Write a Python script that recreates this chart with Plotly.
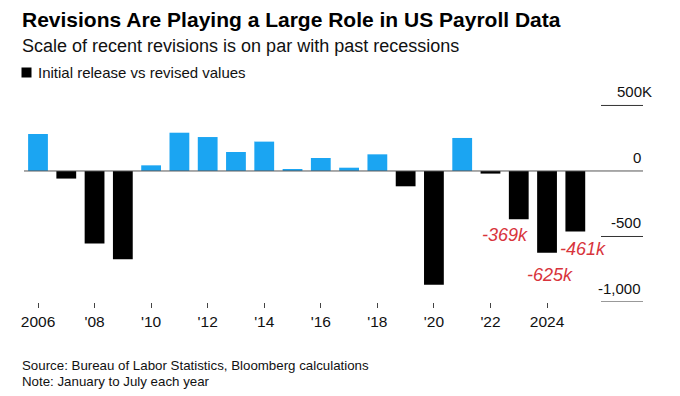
import plotly.graph_objects as go

# ---- data ----
years = list(range(2006, 2026))
revisions_k = [282, -58, -554, -673, 43, 292, 259, 145, 224, 15, 99, 25, 127,
               -117, -869, 252, -20, -369, -625, -461]
tick_years = list(range(2006, 2025, 2))
tick_labels = ["2006", "'08", "'10", "'12", "'14", "'16", "'18", "'20", "'22", "2024"]
y_ticks = [500, 0, -500, -1000]
y_tick_labels = ["500K", "0", "-500", "-1,000"]
callout_years = [2023, 2024, 2025]
callout_labels = ["-369k", "-625k", "-461k"]

title = "Revisions Are Playing a Large Role in US Payroll Data"
subtitle = "Scale of recent revisions is on par with past recessions"
legend_label = "Initial release vs revised values"
source = "Source: Bureau of Labor Statistics, Bloomberg calculations"
note = "Note: January to July each year"

# ---- style ----
W, H = 680, 396
L, R, T, B = 24, 643, 90, 302
BLUE = "#1ba5f2"
BLACK = "#000000"
RED = "#d8343c"
FONT = "Liberation Sans, Arial, Helvetica, sans-serif"


def px(x):
    return (x - L) / (R - L)


def py(y):
    return (B - y) / (B - T)


colors = [BLUE if v >= 0 else BLACK for v in revisions_k]

fig = go.Figure()
fig.add_trace(go.Bar(x=years, y=revisions_k, marker=dict(color=colors, line=dict(width=0)),
                     width=0.7, showlegend=False, hoverinfo="x+y"))

shapes = []
annotations = []

# gridline segments on the right and zero line across the plot
for v in y_ticks:
    if v == 0:
        shapes.append(dict(type="line", xref="paper", yref="y", x0=0, x1=1, y0=v, y1=v,
                           line=dict(color="#555555", width=1), layer="above"))
    else:
        shapes.append(dict(type="line", xref="paper", yref="y", x0=px(601), x1=1, y0=v, y1=v,
                           line=dict(color="#333333", width=1)))

for v, lab in zip(y_ticks, y_tick_labels):
    annotations.append(dict(x=1, y=v, xref="paper", yref="y", text=lab, showarrow=False,
                            xanchor="right", yanchor="bottom", yshift=3,
                            xshift=11 if lab.endswith("K") else 0,
                            font=dict(family=FONT, size=15, color="#111111")))

# red callouts
val = dict(zip(years, revisions_k))
callout_pos = {
    2023: dict(x=2023 + 0.35, xanchor="right", xshift=1, yshift=-4),
    2024: dict(x=2024, xanchor="center", xshift=3, yshift=-10),
    2025: dict(x=2025 - 0.65, xanchor="left", xshift=1, yshift=-6),
}
for yr, lab in zip(callout_years, callout_labels):
    p = callout_pos[yr]
    annotations.append(dict(x=p["x"], y=val[yr], xref="x", yref="y", text="<i>" + lab + "</i>",
                            showarrow=False, xanchor=p["xanchor"], yanchor="top",
                            xshift=p["xshift"], yshift=p["yshift"],
                            font=dict(family=FONT, size=18, color=RED)))

# titles
annotations += [
    dict(x=px(20), y=py(19.5), xref="paper", yref="paper", text="<b>" + title + "</b>",
         showarrow=False, xanchor="left", yanchor="middle",
         font=dict(family=FONT, size=21, color="#000000")),
    dict(x=px(20), y=py(46), xref="paper", yref="paper", text=subtitle,
         showarrow=False, xanchor="left", yanchor="middle",
         font=dict(family=FONT, size=18, color="#111111")),
    dict(x=px(36), y=py(72.5), xref="paper", yref="paper", text=legend_label,
         showarrow=False, xanchor="left", yanchor="middle",
         font=dict(family=FONT, size=15, color="#111111")),
    dict(x=px(20), y=py(365), xref="paper", yref="paper", text=source,
         showarrow=False, xanchor="left", yanchor="middle",
         font=dict(family=FONT, size=13.3, color="#111111")),
    dict(x=px(20), y=py(381), xref="paper", yref="paper", text=note,
         showarrow=False, xanchor="left", yanchor="middle",
         font=dict(family=FONT, size=13.3, color="#111111")),
]
shapes.append(dict(type="rect", xref="paper", yref="paper", x0=px(21.5), x1=px(31.5),
                   y0=py(77.5), y1=py(67.5), fillcolor="#000000", line=dict(width=0)))

fig.update_layout(
    width=W, height=H,
    margin=dict(l=L, r=W - R, t=T, b=H - B, pad=0),
    paper_bgcolor="white", plot_bgcolor="white",
    bargap=0.3,
    xaxis=dict(range=[2006 - 14 / 28.28, 2006 + (R - 38) / 28.28], tickmode="array",
               tickvals=tick_years, ticktext=tick_labels, ticks="outside", ticklen=5,
               tickwidth=1, tickcolor="#444444", showgrid=False, zeroline=False,
               showline=False, tickfont=dict(family=FONT, size=15.5, color="#111111")),
    yaxis=dict(range=[-1000, 618], showgrid=False, zeroline=False, showticklabels=False,
               showline=False),
    shapes=shapes, annotations=annotations,
    showlegend=False,
)

fig.write_html("out.html", config={"displayModeBar": False},
               post_script="document.body.style.margin='0';document.body.style.overflow='hidden';")
